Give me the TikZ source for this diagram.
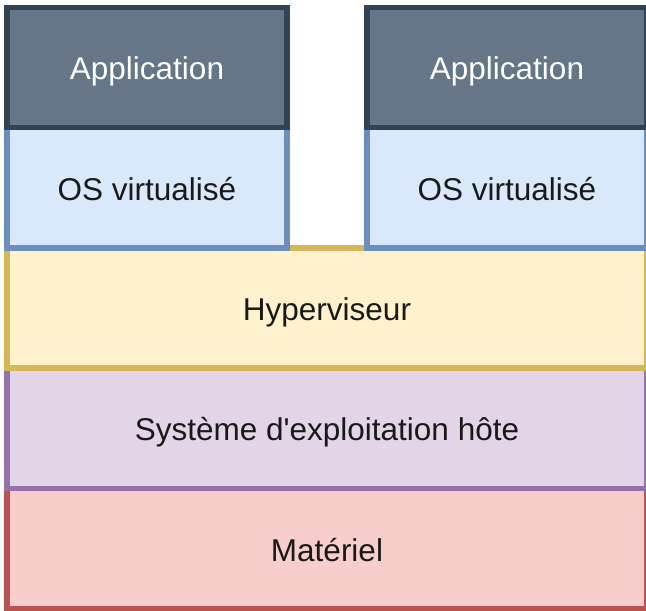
\documentclass[tikz,border=0pt]{standalone}
\usepackage{fontspec}
\newfontfamily\layerfont{Liberation Sans}
\usetikzlibrary{positioning}

\begin{document}
\begin{tikzpicture}[x=1pt,y=-1pt,
  layer/.style={draw,line width=5.5pt,inner sep=0pt,outer sep=0pt,
    text=textColor,font=\layerfont\fontsize{31.5}{38}\selectfont,
    text height=25pt,text depth=0pt,minimum height=120.3pt},
  wide/.style={layer,minimum width=640pt},
  narrow/.style={layer,minimum width=280pt}]
\definecolor{textColor}{rgb}{0.10,0.10,0.10}
\definecolor{appFill}{HTML}{647687}
\definecolor{appDraw}{HTML}{314354}
\definecolor{osFill}{HTML}{DAE8FC}
\definecolor{osDraw}{HTML}{6C8EBF}
\definecolor{hypFill}{HTML}{FFF2CC}
\definecolor{hypDraw}{HTML}{D6B656}
\definecolor{sysFill}{HTML}{E1D5E7}
\definecolor{sysDraw}{HTML}{9673A6}
\definecolor{matFill}{HTML}{F8CECC}
\definecolor{matDraw}{HTML}{B85450}
\useasboundingbox[fill=white] (0,0) rectangle (646,611);

% couches du bas vers le haut
\node[wide,fill=matFill,draw=matDraw] (mat) at (327,548.6) {Matériel};
\node[wide,fill=sysFill,draw=sysDraw,above=0pt of mat] (sys) {Système d'exploitation hôte};
\node[wide,fill=hypFill,draw=hypDraw,above=0pt of sys] (hyp) {Hyperviseur};

% machines virtuelles
\node[narrow,fill=osFill,draw=osDraw,above right=0pt and 0pt of hyp.north west] (osL) {OS virtualisé};
\node[narrow,fill=osFill,draw=osDraw,above left=0pt and 0pt of hyp.north east] (osR) {OS virtualisé};
\node[narrow,fill=appFill,draw=appDraw,text=white,above=0pt of osL] (appL) {Application};
\node[narrow,fill=appFill,draw=appDraw,text=white,above=0pt of osR] (appR) {Application};
\end{tikzpicture}
\end{document}
